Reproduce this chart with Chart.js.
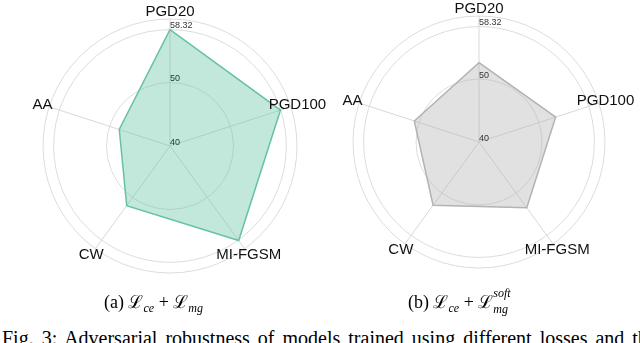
<!DOCTYPE html>
<html>
<head>
<meta charset="utf-8">
<script src="https://cdn.jsdelivr.net/npm/chart.js@4.4.0/dist/chart.umd.min.js"></script>
<style>
  html, body { margin: 0; padding: 0; background: #fff; width: 640px; height: 343px; overflow: hidden; }
  body { position: relative; }
  canvas { position: absolute; top: 0; }
  #chartA { left: 0; }
  #chartB { left: 320px; }
  .cap { position: absolute; font-family: "Liberation Serif", "Times New Roman", serif; font-size: 18px; color: #000; white-space: nowrap; }
  .cap i { font-style: italic; }
  .cap sub { font-size: 12px; vertical-align: -4px; line-height: 0; }
  .ss { display: inline-block; position: relative; width: 26px; height: 10px; }
  .ss .up { position: absolute; left: 0; top: -12px; font-size: 12px; font-style: italic; }
  .ss .dn { position: absolute; left: 0; top: 4px; font-size: 12px; font-style: italic; }
  #fig { position: absolute; left: 2px; top: 327px; font-family: "Liberation Serif", "Times New Roman", serif; font-size: 20px; white-space: nowrap; word-spacing: 3px; }
</style>
</head>
<body>
<canvas id="chartA" width="340" height="300"></canvas>
<canvas id="chartB" width="318" height="300"></canvas>
<div class="cap" style="left:104px; top:289px;">(a) ℒ<sub><i>ce</i></sub> + ℒ<sub><i>mg</i></sub></div>
<div class="cap" style="left:408px; top:289px;">(b) ℒ<sub><i>ce</i></sub> + ℒ<span class="ss"><span class="up">soft</span><span class="dn">mg</span></span></div>
<div id="fig">Fig. 3: Adversarial robustness of models trained using different losses and their</div>
<script>
const categories = ["PGD20", "PGD100", "MI-FGSM", "CW", "AA"];
const valuesA = [58.32, 58.3, 58.4, 51.6, 48.4];
const valuesB = [52.6, 52.8, 52.9, 52.4, 50.8];
const tickValues = [40, 50, 58.32, 60];
const tickLabels = ["40", "50", "58.32", ""];

// point labels and tick labels, placed with the radial scale
const labelPlugin = {
    id: "radarText",
    afterDraw(chart) {
        let r = chart.scales.r;
        let ctx = chart.ctx;
        ctx.save();
        ctx.fillStyle = "#111";
        ctx.font = '15px "Liberation Sans", Arial, sans-serif';
        ctx.textAlign = "center";
        ctx.textBaseline = "middle";
        categories.forEach(function (c, i) {
            let p = r.getPointPosition(i, r.drawingArea + 7);
            ctx.fillText(c, p.x, p.y);
        });
        ctx.fillStyle = "#333";
        ctx.font = '9px "Liberation Sans", Arial, sans-serif';
        ctx.textAlign = "left";
        ctx.textBaseline = "alphabetic";
        tickValues.forEach(function (v, i) {
            let d = r.getDistanceFromCenterForValue(v);
            ctx.fillText(tickLabels[i], r.xCenter, r.yCenter - d - 1.5);
        });
        ctx.restore();
    }
};

function makeRadar(id, values, fill, line, pad) {
    let ctx = document.getElementById(id).getContext("2d");
    return new Chart(ctx, {
        type: "radar",
        data: {
            labels: categories,
            datasets: [{
                data: values,
                backgroundColor: fill,
                borderColor: line,
                borderWidth: 1.5,
                pointRadius: 0,
                fill: true
            }]
        },
        options: {
            responsive: false,
            animation: false,
            layout: { padding: pad },
            plugins: { legend: { display: false }, tooltip: { enabled: false } },
            scales: {
                r: {
                    min: 40,
                    max: 60,
                    grid: { color: "#dcdcdc", lineWidth: 1, circular: true },
                    angleLines: { color: "#d8d8d8", lineWidth: 1 },
                    pointLabels: { display: false },
                    ticks: { display: false },
                    afterBuildTicks: function (scale) {
                        scale.ticks = tickValues.map(function (v) { return { value: v }; });
                    }
                }
            }
        },
        plugins: [labelPlugin]
    });
}

document.addEventListener("DOMContentLoaded", function () {
    makeRadar("chartA", valuesA, "rgba(102,194,165,0.4)", "#66c2a5", { top: 19, bottom: 26, left: 0, right: 0 });
    makeRadar("chartB", valuesB, "rgba(179,179,179,0.4)", "#b3b3b3", { top: 16, bottom: 31, left: 0, right: 0 });
});
</script>
</body>
</html>
